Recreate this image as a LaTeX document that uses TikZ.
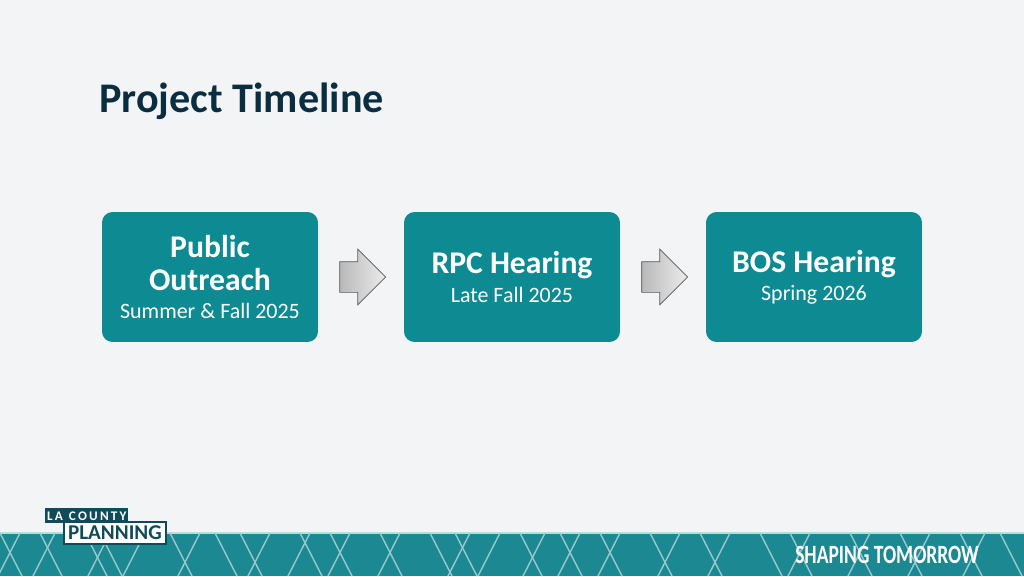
\documentclass[tikz,border=0pt]{standalone}
\usepackage{fontspec}
\setmainfont{Carlito}
\usetikzlibrary{positioning,shapes.arrows}
\definecolor{bgpage}{HTML}{F2F4F6}
\definecolor{tealbox}{HTML}{0E8A92}
\definecolor{tealband}{HTML}{1B8892}
\definecolor{navy}{HTML}{0B2D40}
\definecolor{logodark}{HTML}{104B5A}
\newcommand{\stagehead}{\fontsize{18}{19}\selectfont\bfseries}
\newcommand{\stagewhen}{\fontsize{12.5}{14}\selectfont\mdseries}
\begin{document}
\begin{tikzpicture}[x=0.02cm,y=-0.02cm,
    stage/.style={shape=rectangle, rounded corners=6pt, fill=tealbox, text=white, minimum width=4.32cm, minimum height=2.6cm, align=center, inner sep=0pt, font=\stagehead},
    stagearrow/.style={single arrow, draw=gray!70!black, thin, left color=gray!55, right color=gray!15, minimum height=0.92cm, minimum width=1.1cm, single arrow head extend=0.25cm, inner xsep=0pt, inner ysep=0.3cm, shape border uses incircle=false},
  ]
    \fill[bgpage] (0,0) rectangle (1024,576);
    \useasboundingbox (0,0) rectangle (1024,576);

    \node[anchor=base west, text=navy, font=\fontsize{24}{28}\selectfont\bfseries, inner sep=0pt] (title) at (99,112) {Project Timeline};

    \node[stage] (outreach) at (210,277) {Public\\Outreach\\[-3pt]{\stagewhen Summer \& Fall 2025}};
    \node[stage] (rpc) at (512,277) {RPC Hearing\\[-3pt]{\stagewhen Late Fall 2025}};
    \node[stage] (bos) at (814,277) {BOS Hearing\\[-3pt]{\stagewhen Spring 2026}};

    \node[stagearrow] (a1) at (355,277) {};
    \node[stagearrow] (a2) at (657,277) {};

    % band at the bottom
    \fill[tealband] (0,533) rectangle (1024,576);
    \draw[white!70!tealband, line width=0.6pt] (0,533) -- (1024,533);
    \begin{scope}
      \clip (0,533) rectangle (1024,576);
      \foreach \x in {0,40,85,100,170,215,240,300,330,380,430,455,520,560,600,650,700,760,790,850,900,960,1000}
        \draw[white!55!tealband, line width=0.8pt] (\x,533) -- (\x+22,576);
      \foreach \x in {20,55,110,145,200,270,310,350,400,470,500,545,580,620,680,730,810,870,930,985}
        \draw[white!55!tealband, line width=0.8pt] (\x,533) -- (\x-22,576);
    \end{scope}
    \node[anchor=west, text=white, font=\fontsize{15}{16}\selectfont\bfseries, xscale=0.74, inner sep=0pt] (slogan) at (795,555) {SHAPING TOMORROW};

    % logo
    \node[anchor=north west, fill=logodark, text=white, font=\fontsize{7.5}{8}\selectfont\bfseries, minimum width=1.66cm, minimum height=0.3cm, inner sep=0pt] (county) at (45,508) {L\,A\ \ C\,O\,U\,N\,T\,Y};
    \node[anchor=north west, fill=white, draw=logodark, line width=1pt, text=logodark, font=\fontsize{12}{13}\selectfont\bfseries, minimum width=2.04cm, minimum height=0.44cm, inner sep=0pt] (planning) at (63,521) {PLANNING};
\end{tikzpicture}
\end{document}
